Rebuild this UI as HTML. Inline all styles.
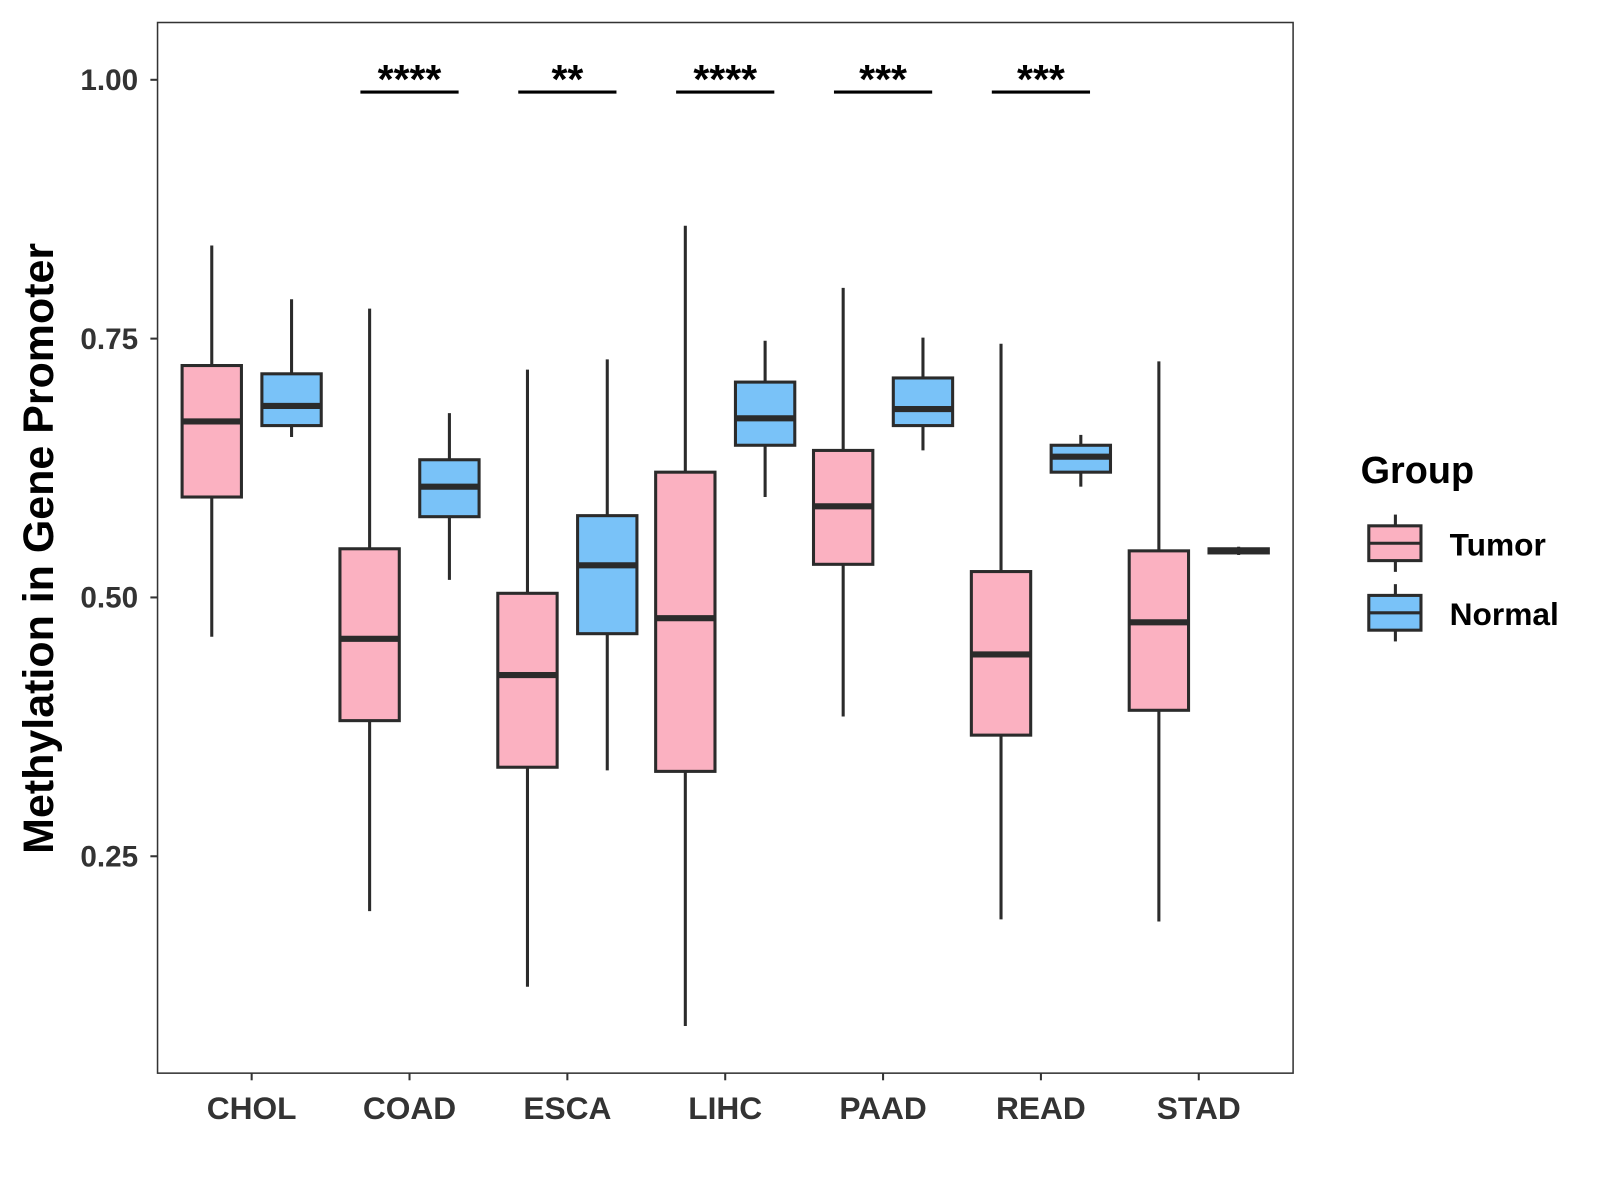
<!DOCTYPE html>
<html><head><meta charset="utf-8"><style>html,body{margin:0;padding:0;background:#fff}svg{display:block}</style></head>
<body>
<svg id="chart" width="1600" height="1200" viewBox="0 0 1564 1173" xmlns="http://www.w3.org/2000/svg" font-family="Liberation Sans, Arial, sans-serif">
<rect width="1564" height="1173" fill="#fff"/>
<g id="plot"></g>
<text transform="translate(52,536) rotate(-90)" text-anchor="middle" font-size="42" font-weight="bold" fill="#000">Methylation in Gene Promoter</text>
<g>
<text x="1330" y="472" font-size="37" font-weight="bold">Group</text>
<g>
<line x1="1364" y1="503" x2="1364" y2="559" stroke="#2b2b2b" stroke-width="3"/>
<rect x="1338" y="514" width="51" height="34" fill="#fbb1c1" stroke="#2b2b2b" stroke-width="3"/>
<line x1="1338" y1="531" x2="1389" y2="531" stroke="#2b2b2b" stroke-width="3"/>
<text x="1417" y="543" font-size="31" font-weight="bold">Tumor</text></g>
<g>
<line x1="1364" y1="571" x2="1364" y2="627" stroke="#2b2b2b" stroke-width="3"/>
<rect x="1338" y="582" width="51" height="34" fill="#79c2f8" stroke="#2b2b2b" stroke-width="3"/>
<line x1="1338" y1="599" x2="1389" y2="599" stroke="#2b2b2b" stroke-width="3"/>
<text x="1417" y="611" font-size="31" font-weight="bold">Normal</text></g>
</g>
</svg>
<script>
const categories=["CHOL","COAD","ESCA","LIHC","PAAD","READ","STAD"];
// [low, q1, median, q3, high]
const tumorStats=[[0.462,0.597,0.670,0.724,0.840],[0.197,0.381,0.460,0.547,0.779],[0.124,0.336,0.425,0.504,0.720],[0.086,0.332,0.480,0.621,0.859],[0.385,0.532,0.588,0.642,0.799],[0.189,0.367,0.445,0.525,0.745],[0.187,0.391,0.476,0.545,0.728]];
const normalStats=[[0.655,0.666,0.685,0.716,0.788],[0.517,0.578,0.607,0.633,0.678],[0.333,0.465,0.531,0.579,0.730],[0.597,0.647,0.673,0.708,0.748],[0.642,0.666,0.682,0.712,0.751],[0.607,0.621,0.636,0.647,0.657],[0.541,0.543,0.545,0.547,0.549]];
const signif=["","****","**","****","***","***",""];
const yTicks=[0.25,0.50,0.75,1.00];
const yTickLabels=["0.25","0.50","0.75","1.00"];

const NS="http://www.w3.org/2000/svg";
const g=document.getElementById('plot');
const L=154,R=1264,T=22,B=1049;
function y(v){return 78+(1-v)*1012;}
function x(i){return 246+i*154.3;}
function mk(tag,attrs,parent){const e=document.createElementNS(NS,tag);for(const k in attrs)e.setAttribute(k,attrs[k]);(parent||g).appendChild(e);return e;}

const panel=mk('rect',{x:L,y:T,width:R-L,height:B-T,fill:'none',stroke:'#333',"stroke-width":1.5});



yTicks.forEach((v,i)=>{
  const t=mk('line',{x1:L-7,x2:L,y1:y(v),y2:y(v),stroke:'#333',"stroke-width":2});
  
  
  const tx=mk('text',{x:L-19,y:y(v)+10,"text-anchor":"end","font-size":29,"font-weight":"bold",fill:'#333'});
  tx.textContent=yTickLabels[i];
  
  
});

function box(cx,s,fill,name){
  const grp=mk('g',{});
  
  
  const w=58;
  mk('line',{x1:cx,x2:cx,y1:y(s[4]),y2:y(s[0]),stroke:'#2b2b2b',"stroke-width":3},grp);
  mk('rect',{x:cx-w/2,y:y(s[3]),width:w,height:Math.max(y(s[1])-y(s[3]),0.1),fill:fill,stroke:'#2b2b2b',"stroke-width":3},grp);
  mk('line',{x1:cx-w/2,x2:cx+w/2,y1:y(s[2]),y2:y(s[2]),stroke:'#2b2b2b',"stroke-width":6},grp);
}

categories.forEach((c,i)=>{
  const cx=x(i);
  box(cx-39,tumorStats[i],'#fbb1c1','box-tumor-'+c.toLowerCase());
  box(cx+39,normalStats[i],'#79c2f8','box-normal-'+c.toLowerCase());
  const t=mk('line',{x1:cx,x2:cx,y1:B,y2:B+7,stroke:'#333',"stroke-width":2});
  
  
  const tx=mk('text',{x:cx,y:1094,"text-anchor":"middle","font-size":31,"font-weight":"bold",fill:'#333'});
  tx.textContent=c;
  
  
  if(signif[i]){
    const bl=mk('line',{x1:cx-48,x2:cx+48,y1:90,y2:90,stroke:'#000',"stroke-width":3});
    
    
    const st=mk('text',{x:cx,y:91,"text-anchor":"middle","font-size":40,"font-weight":"bold",fill:'#000'});
    st.textContent=signif[i];
    
    
  }
});
</script>
</body></html>
